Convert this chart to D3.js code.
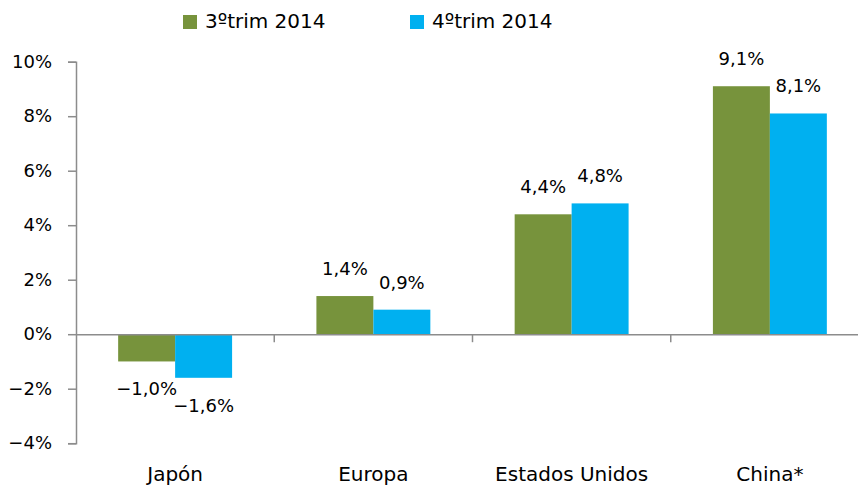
<!DOCTYPE html>
<html>
<head>
<meta charset="utf-8">
<script src="https://cdn.jsdelivr.net/npm/d3@7"></script>
<style>
  body { margin: 0; background: #fff; }
  svg { display: block; font-family: "DejaVu Sans", sans-serif; }
</style>
</head>
<body>
<script>
'use strict';

// chart data
const categories = ["Japón", "Europa", "Estados Unidos", "China*"];
const seriesNames = ["3ºtrim 2014", "4ºtrim 2014"];
const q3Values = [-1.0, 1.4, 4.4, 9.1];
const q4Values = [-1.6, 0.9, 4.8, 8.1];
const yTicks = [-4, -2, 0, 2, 4, 6, 8, 10];
const colors = ["#77933c", "#00b0f0"];

const width = 858, height = 489;
const axisColor = "#8c8c8c";

let svg = d3.select("body").append("svg")
  .attr("width", width)
  .attr("height", height);

// scales
let y = d3.scaleLinear().domain([-4, 10]).range([443.2, 61.7]);
let x0 = d3.scaleBand().domain(categories).range([76, 869]);
let x1 = d3.scaleBand().domain(seriesNames)
  .range([0, x0.bandwidth()])
  .paddingInner(0)
  .paddingOuter(0.74);

// format like "9,1%" with a true minus sign
let fmt = (v) => (v < 0 ? "\u2212" : "") + Math.abs(v).toFixed(1).replace(".", ",") + "%";

// y axis
let yAxis = d3.axisLeft(y)
  .tickValues(yTicks)
  .tickSize(8)
  .tickPadding(16)
  .tickFormat((d) => (d < 0 ? "\u2212" : "") + Math.abs(d) + "%");
let gy = svg.append("g")
  .attr("transform", "translate(76,0)")
  .call(yAxis);
gy.select(".domain").attr("stroke", axisColor).attr("stroke-width", 1.5);
gy.selectAll(".tick line").attr("stroke", axisColor).attr("stroke-width", 1.5);
gy.selectAll(".tick text")
  .attr("fill", "#000")
  .style("font-size", "18px")
  .style("font-family", "DejaVu Sans, sans-serif");

// bars
let rows = categories.map((c, i) => ({ cat: c, vals: [q3Values[i], q4Values[i]] }));
let groups = svg.selectAll(".grp")
  .data(rows)
  .enter()
  .append("g")
  .attr("class", "grp")
  .attr("transform", (d) => "translate(" + x0(d.cat) + ",0)");

let cells = groups.selectAll(".bar")
  .data((d) => d.vals.map((v, j) => ({ s: seriesNames[j], v: v, j: j })))
  .enter();

cells.append("rect")
  .attr("class", "bar")
  .attr("x", (d) => x1(d.s))
  .attr("width", x1.bandwidth())
  .attr("y", (d) => y(Math.max(0, d.v)))
  .attr("height", (d) => Math.abs(y(d.v) - y(0)))
  .attr("fill", (d) => colors[d.j]);

// value labels
cells.append("text")
  .attr("x", (d) => x1(d.s) + x1.bandwidth() / 2)
  .attr("y", (d) => d.v >= 0 ? y(d.v) - 21 : y(d.v) + 34)
  .attr("text-anchor", "middle")
  .style("font-size", "18px")
  .attr("fill", "#000")
  .text((d) => fmt(d.v));

// x axis along the zero line
let xAxis = d3.axisBottom(x0).tickSize(0).tickFormat("");
let gx = svg.append("g")
  .attr("transform", "translate(0," + y(0) + ")")
  .call(xAxis);
gx.select(".domain").attr("stroke", axisColor).attr("stroke-width", 1.5);

// category separator ticks
svg.selectAll(".sep")
  .data(categories.slice(1))
  .enter()
  .append("line")
  .attr("x1", (d) => x0(d))
  .attr("x2", (d) => x0(d))
  .attr("y1", y(0))
  .attr("y2", y(0) + 8)
  .attr("stroke", axisColor)
  .attr("stroke-width", 1.5);

// category labels at the bottom
svg.selectAll(".cat")
  .data(categories)
  .enter()
  .append("text")
  .attr("x", (d) => x0(d) + x0.bandwidth() / 2)
  .attr("y", 481)
  .attr("text-anchor", "middle")
  .style("font-size", "20px")
  .attr("fill", "#000")
  .text((d) => d);

// legend
let legendX = [183, 410];
let legend = svg.selectAll(".leg")
  .data(seriesNames)
  .enter()
  .append("g")
  .attr("transform", (d, i) => "translate(" + legendX[i] + ",0)");
legend.append("rect")
  .attr("x", 0)
  .attr("y", 15)
  .attr("width", 14)
  .attr("height", 14)
  .attr("fill", (d, i) => colors[i]);
legend.append("text")
  .attr("x", 22)
  .attr("y", 28)
  .style("font-size", "20px")
  .attr("fill", "#000")
  .text((d) => d);
</script>
</body>
</html>
